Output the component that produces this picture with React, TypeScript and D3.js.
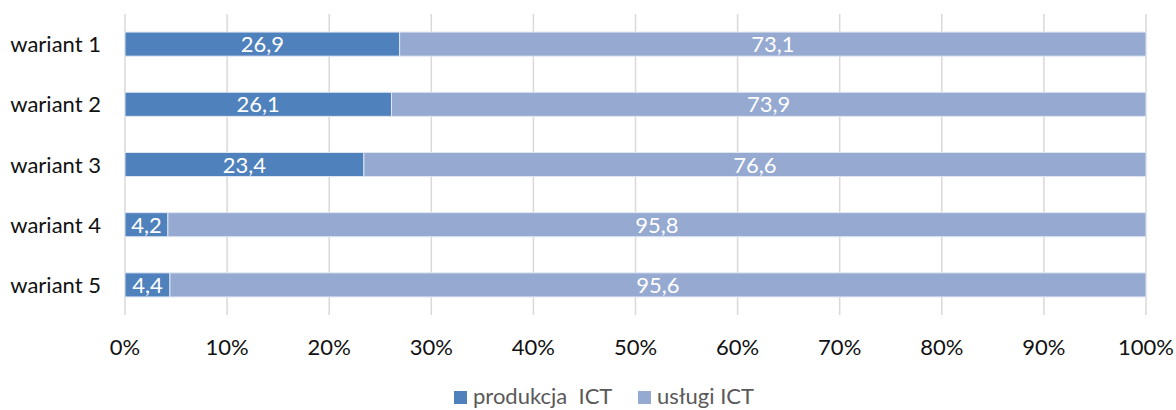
import * as d3 from "d3";

const categories = ["wariant 1", "wariant 2", "wariant 3", "wariant 4", "wariant 5"];
const produkcja = [26.9, 26.1, 23.4, 4.2, 4.4];
const uslugi = [73.1, 73.9, 76.6, 95.8, 95.6];
const seriesNames = ["produkcja  ICT", "usługi ICT"];
const ticks = [0, 10, 20, 30, 40, 50, 60, 70, 80, 90, 100];

const colors = ["#4f81bd", "#95a9d1"];
const WIDTH = 1176;
const HEIGHT = 410;
const FONT = "Lato, 'Open Sans', sans-serif";
const FS = 22;

export default function App() {
	const x = d3.scaleLinear().domain([0, 100]).range([125, 1146]);
	const y = d3.scaleBand().domain(categories).range([14, 315]).paddingInner(0.6).paddingOuter(0.3);

	const rows = categories.map((c, i) => ({ name: c, produkcja: produkcja[i], uslugi: uslugi[i] }));
	const stack = d3.stack<(typeof rows)[number]>().keys(["produkcja", "uslugi"]);
	const layers = stack(rows);
	const fmt = (v: number) => v.toFixed(1).replace(".", ",");

	return (
		<svg
			width={WIDTH}
			height={HEIGHT}
			style={{ position: "absolute", left: 0, top: 0, fontFamily: FONT }}
		>
			{ticks.map((t) => (
				<g key={t}>
					<line x1={x(t)} x2={x(t)} y1={14} y2={315} stroke="#d9d9d9" strokeWidth={1.5} />
					<text x={x(t)} y={355} textAnchor="middle" fontSize={FS} fill="#111">
						{t}%
					</text>
				</g>
			))}
			{layers.map((layer, li) =>
				layer.map((d, i) => {
					const x0 = x(d[0]);
					const x1 = x(d[1]);
					const yy = y(categories[i])!;
					const v = d[1] - d[0];
					return (
						<g key={`${li}-${i}`}>
							<rect
								x={x0}
								y={yy}
								width={x1 - x0}
								height={y.bandwidth()}
								fill={colors[li]}
								stroke="#dfe6f1"
								strokeWidth={1}
							/>
							<text
								x={(x0 + x1) / 2}
								y={yy + y.bandwidth() / 2 + 8}
								textAnchor="middle"
								fontSize={FS}
								fill="#fff"
							>
								{fmt(v)}
							</text>
						</g>
					);
				})
			)}
			{categories.map((c) => (
				<text
					key={c}
					x={101}
					y={y(c)! + y.bandwidth() / 2 + 8}
					textAnchor="end"
					fontSize={FS}
					fill="#111"
				>
					{c}
				</text>
			))}
			<g transform="translate(454, 0)">
				{seriesNames.map((s, i) => (
					<g key={s} transform={`translate(${i * 184}, 0)`}>
						<rect x={0} y={391} width={13} height={13} fill={colors[i]} />
						<text x={19} y={404} fontSize={FS} fill="#595959" xmlSpace="preserve">
							{s}
						</text>
					</g>
				))}
			</g>
		</svg>
	);
}
